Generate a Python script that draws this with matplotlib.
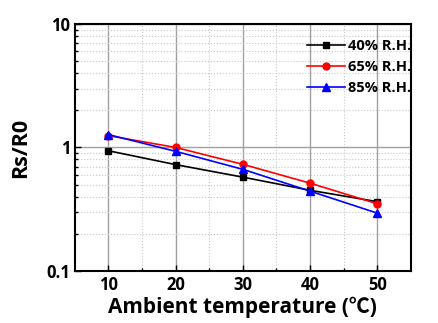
import matplotlib
matplotlib.use('Agg')
import matplotlib.pyplot as plt
from matplotlib.ticker import LogLocator, NullFormatter, FixedLocator

plt.rcParams['font.family'] = ['Open Sans', 'Noto Sans CJK SC', 'DejaVu Sans']
plt.rcParams['font.weight'] = 'bold'

# 数据
temps = [10, 20, 30, 40, 50]
rh40 = [0.94, 0.726, 0.575, 0.45, 0.364]
rh65 = [1.245, 1.0, 0.73, 0.514, 0.35]
rh85 = [1.27, 0.93, 0.665, 0.443, 0.294]
labels = ['40% R.H.', '65% R.H.', '85% R.H.']

fig = plt.figure(figsize=(4.38, 3.23), dpi=100)
ax = fig.add_axes([0.171, 0.161, 0.767, 0.765])

ax.plot(temps, rh40, color='black', marker='s', ms=5, lw=1.2, label=labels[0])
ax.plot(temps, rh65, color='red', marker='o', ms=5, lw=1.2, label=labels[1])
ax.plot(temps, rh85, color='blue', marker='^', ms=5.5, lw=1.2, label=labels[2])

ax.set_yscale('log')
ax.set_ylim(0.1, 10)
ax.set_xlim(5, 55)
ax.set_xticks(temps)
ax.xaxis.set_minor_locator(FixedLocator([15, 25, 35, 45]))
ax.yaxis.set_major_locator(FixedLocator([0.1, 1, 10]))
ax.set_yticklabels(['0.1', '1', '10'])
ax.yaxis.set_minor_locator(LogLocator(base=10, subs=range(2, 10)))
ax.yaxis.set_minor_formatter(NullFormatter())

ax.grid(which='major', color='#a0a0a0', lw=1.0, ls='-')
ax.grid(which='minor', color='#c8c8c8', lw=0.8, ls=':')
ax.set_axisbelow(True)

ax.tick_params(which='both', direction='in', labelsize=12, width=1.0)
ax.tick_params(which='major', length=4)
ax.tick_params(which='minor', length=2.5)
for s in ax.spines.values():
    s.set_linewidth(1.5)

ax.set_xlabel('Ambient temperature (℃)', fontsize=15, fontweight='bold', labelpad=2)
ax.set_ylabel('Rs/R0', fontsize=15.5, fontweight='bold', labelpad=11)

ax.legend(loc='upper right', frameon=False, fontsize=10.5, handlelength=2.6,
          borderaxespad=0.0, borderpad=0.0, labelspacing=0.5, handletextpad=0.2,
          bbox_to_anchor=(1.0, 0.94))

fig.savefig('out.png', dpi=100)
